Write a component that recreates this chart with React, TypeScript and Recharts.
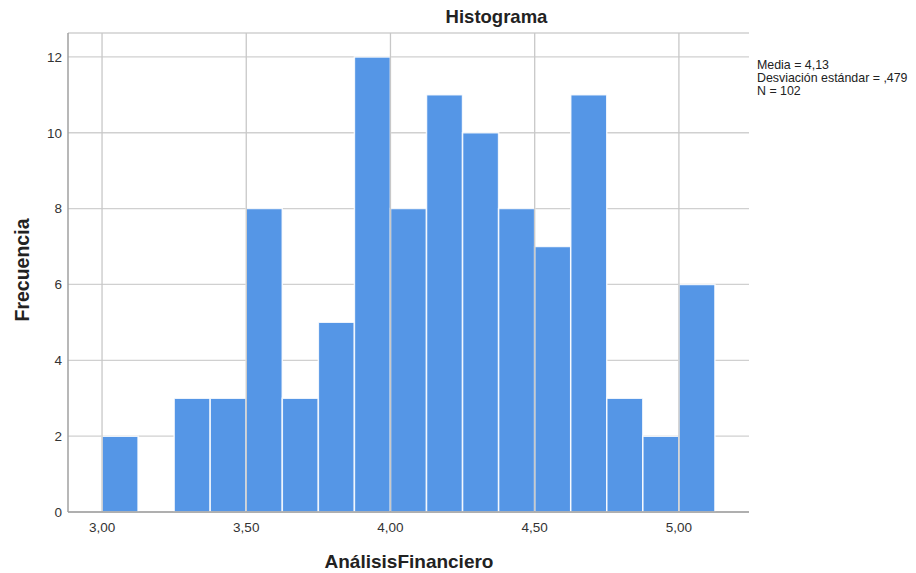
import React from "react";
import {
  ComposedChart,
  Bar,
  XAxis,
  YAxis,
  CartesianGrid,
  ReferenceLine,
} from "recharts";

// Bin lower edges (width 0.125) and counts
const binStarts = [3.0, 3.125, 3.25, 3.375, 3.5, 3.625, 3.75, 3.875, 4.0, 4.125, 4.25, 4.375, 4.5, 4.625, 4.75, 4.875, 5.0];
const counts = [2, 0, 3, 3, 8, 3, 5, 12, 8, 11, 10, 8, 7, 11, 3, 2, 6];
const binWidth = 0.125;

const xTicks = [3.0, 3.5, 4.0, 4.5, 5.0];
const yTicks = [0, 2, 4, 6, 8, 10, 12];

const titleText = "Histograma";
const xTitle = "AnálisisFinanciero";
const yTitle = "Frecuencia";
const statsLines = ["Media = 4,13", "Desviación estándar = ,479", "N = 102"];

const data = binStarts.map((s, i) => ({ mid: s + binWidth / 2, count: counts[i] }));

const FONT = '"Liberation Sans", Arial, Helvetica, sans-serif';
const fmt = (v: number) => v.toFixed(2).replace(".", ",");

export default function App() {
  return (
    <div style={{ position: "relative", width: 908, height: 565, fontFamily: FONT }}>
      <ComposedChart
        width={908}
        height={565}
        data={data}
        margin={{ top: 25, right: 167, bottom: 31, left: 0 }}
        barCategoryGap={0}
        barGap={0}
      >
        <CartesianGrid vertical={false} stroke="#d0d0d0" strokeWidth={1.3} />
        <XAxis
          dataKey="mid"
          type="number"
          domain={[2.882, 5.243]}
          ticks={xTicks}
          tickFormatter={fmt}
          allowDataOverflow
          height={30}
          tickLine={false}
          tickSize={6}
          tickMargin={4}
          axisLine={{ stroke: "#a0a0a0", strokeWidth: 1.5 }}
          tick={{ fill: "#333", fontSize: 13.5, fontFamily: FONT }}
        />
        <YAxis
          type="number"
          domain={[0, 12.63]}
          ticks={yTicks}
          allowDataOverflow
          width={60}
          tickLine={false}
          tickSize={4}
          tickMargin={2}
          axisLine={{ stroke: "#a0a0a0", strokeWidth: 1.5 }}
          tick={{ fill: "#333", fontSize: 13.5, fontFamily: FONT }}
        />
        <Bar
          dataKey="count"
          fill="#5596e6"
          stroke="#ffffff"
          strokeOpacity={0.85}
          strokeWidth={1.5}
          isAnimationActive={false}
        />
        {xTicks.map((t) => (
          <ReferenceLine key={t} x={t} stroke="#c8c8c8" strokeWidth={1.3} ifOverflow="hidden" />
        ))}
      </ComposedChart>

      <div
        style={{
          position: "absolute",
          left: 749,
          top: 50.5,
          fontSize: 12.4,
          lineHeight: "13px",
          color: "#222",
          whiteSpace: "nowrap",
        }}
      >
        {statsLines.map((l) => (
          <div key={l}>{l}</div>
        ))}
      </div>

      <div
        style={{
          position: "absolute",
          left: 488.5,
          top: 9,
          transform: "translate(-50%, -50%)",
          fontSize: 18.5,
          fontWeight: "bold",
          color: "#222",
          whiteSpace: "nowrap",
        }}
      >
        {titleText}
      </div>

      <div
        style={{
          position: "absolute",
          left: 401,
          top: 554,
          transform: "translate(-50%, -50%)",
          fontSize: 19,
          fontWeight: "bold",
          color: "#222",
          whiteSpace: "nowrap",
        }}
      >
        {xTitle}
      </div>

      <div
        style={{
          position: "absolute",
          left: 14,
          top: 262,
          transform: "translate(-50%, -50%) rotate(-90deg)",
          fontSize: 19.5,
          fontWeight: "bold",
          color: "#222",
          whiteSpace: "nowrap",
        }}
      >
        {yTitle}
      </div>
    </div>
  );
}
